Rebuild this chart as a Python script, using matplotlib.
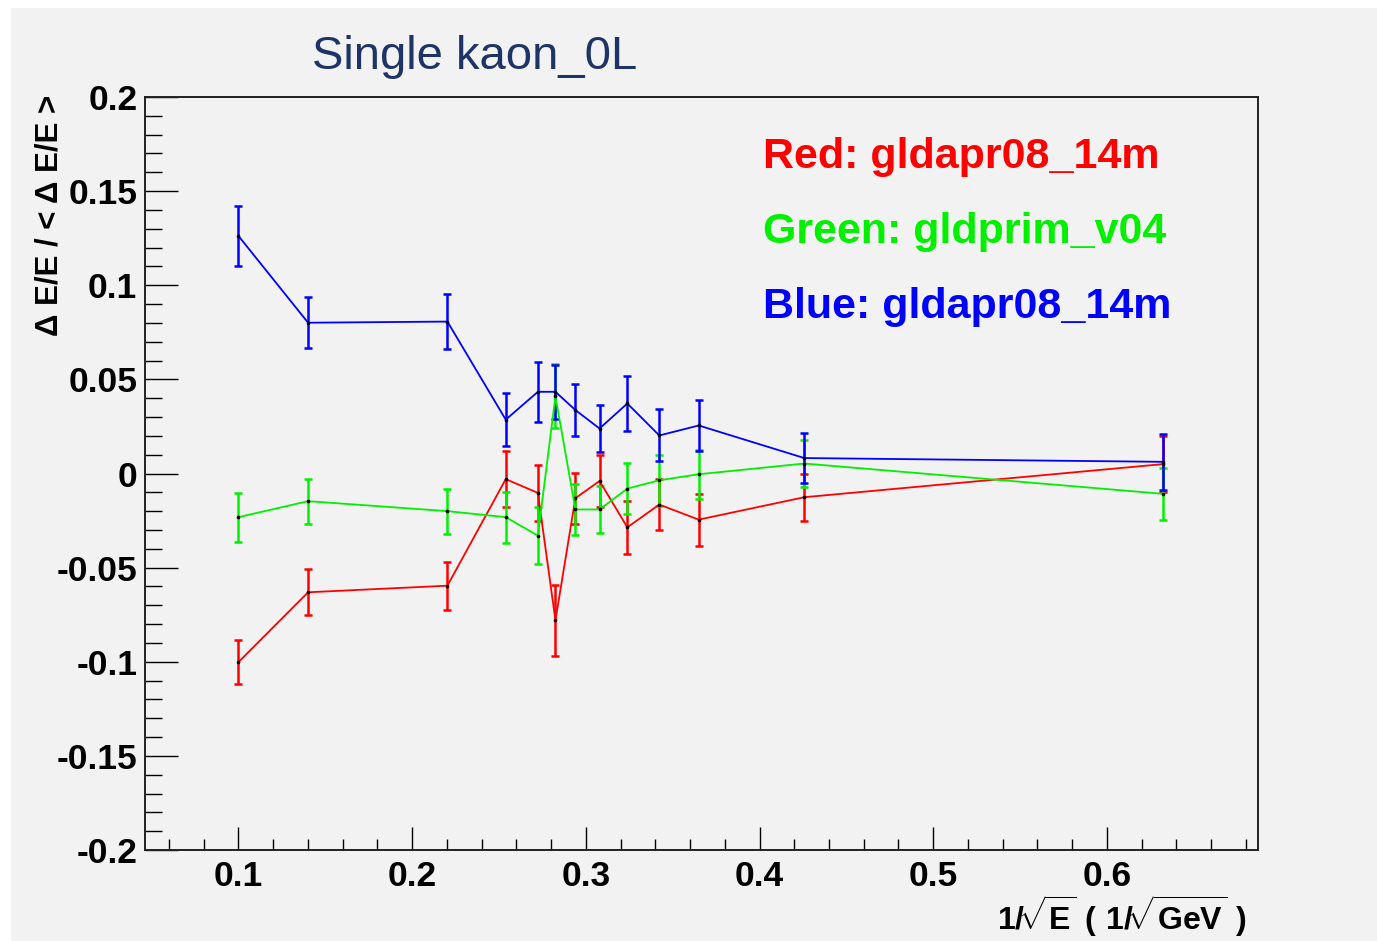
import matplotlib
matplotlib.use("Agg")
import matplotlib.pyplot as plt
from matplotlib.ticker import MultipleLocator, FuncFormatter
from matplotlib.patches import Rectangle

plt.rcParams['font.family'] = ['Liberation Sans', 'DejaVu Sans']
plt.rcParams['axes.unicode_minus'] = False
plt.rcParams['mathtext.fontset'] = 'custom'
plt.rcParams['mathtext.rm'] = 'Liberation Sans'
plt.rcParams['mathtext.bf'] = 'Liberation Sans:bold'

# ---- data ----
inv_sqrt_e = [0.1, 0.1401, 0.2203, 0.2539, 0.2724, 0.2825, 0.294, 0.3079,
              0.3239, 0.3423, 0.365, 0.4258, 0.6324]

red_y = [-0.1002, -0.0631, -0.0596, -0.003, -0.0103, -0.078, -0.0131, -0.004,
         -0.0286, -0.0165, -0.0245, -0.0126, 0.005]
red_err = [0.0115, 0.0122, 0.0127, 0.015, 0.015, 0.019, 0.0136, 0.014,
           0.014, 0.0135, 0.0138, 0.0125, 0.015]

green_y = [-0.0232, -0.0147, -0.02, -0.0232, -0.033, 0.041, -0.0191, -0.0191,
           -0.008, -0.0036, -0.0004, 0.0053, -0.0108]
green_err = [0.013, 0.012, 0.012, 0.0135, 0.015, 0.017, 0.0135, 0.0125,
             0.0135, 0.0135, 0.0131, 0.0123, 0.0137]

blue_y = [0.1262, 0.0801, 0.0807, 0.0286, 0.0434, 0.0434, 0.0337, 0.0239,
          0.0372, 0.0202, 0.0255, 0.0082, 0.0062]
blue_err = [0.016, 0.0135, 0.0147, 0.014, 0.016, 0.0144, 0.014, 0.0127,
            0.0145, 0.0138, 0.0138, 0.0135, 0.015]

series_labels = ["Red: gldapr08_14m", "Green: gldprim_v04", "Blue: gldapr08_14m"]
series_colors = ["#ff0000", "#00f000", "#0000ff"]
title_text = "Single kaon_0L"
x_title = r'$\mathbf{1/}\!\sqrt{\mathbf{E}}\mathbf{\ (\ 1/}\!\sqrt{\mathbf{GeV}}\mathbf{\ )}$'
y_title = "Δ E/E / < Δ E/E >"

W, H = 1377, 941
BG = "#f2f2f2"

fig = plt.figure(figsize=(W / 100, H / 100), dpi=100, facecolor="white")
fig.patches.append(Rectangle((11 / W, 0), 1 - 11 / W, 1 - 8 / H,
                             transform=fig.transFigure, facecolor=BG,
                             edgecolor='none', zorder=-10))


def fx(px):
    return px / W


def fy(py):
    return 1 - py / H


ax = fig.add_axes([fx(145), fy(850), fx(1258) - fx(145), fy(97) - fy(850)])
ax.set_facecolor(BG)

for y, e, c in zip([red_y, green_y, blue_y], [red_err, green_err, blue_err], series_colors):
    ax.errorbar(inv_sqrt_e, y, yerr=e, color=c, lw=1.3, elinewidth=1.8,
                capsize=3.0, capthick=1.8, marker='o', ms=1.6, mfc='k', mec='k')

ax.set_xlim(0.0462, 0.687)
ax.set_ylim(-0.2, 0.2)

ax.xaxis.set_major_locator(MultipleLocator(0.1))
ax.xaxis.set_minor_locator(MultipleLocator(0.02))
ax.yaxis.set_major_locator(MultipleLocator(0.05))
ax.yaxis.set_minor_locator(MultipleLocator(0.01))


def fmt(v, pos):
    v = round(v, 4)
    if v == 0:
        return "0"
    return f"{v:g}"


ax.xaxis.set_major_formatter(FuncFormatter(fmt))
ax.yaxis.set_major_formatter(FuncFormatter(fmt))

ax.tick_params(axis='y', which='major', direction='in', length=24, width=1.0,
               labelsize=25.5, pad=5.5, right=False)
ax.tick_params(axis='y', which='minor', direction='in', length=12, width=1.0, right=False)
ax.tick_params(axis='x', which='major', direction='in', length=16.5, width=1.0,
               labelsize=25.5, pad=7, top=False)
ax.tick_params(axis='x', which='minor', direction='in', length=8, width=1.0, top=False)
for lab in ax.get_xticklabels() + ax.get_yticklabels():
    lab.set_fontweight('bold')

for s in ax.spines.values():
    s.set_linewidth(1.4)
    s.set_color('#222222')

# titles
fig.text(fx(312), fy(69), title_text, fontsize=34, color="#1f3466",
         ha='left', va='baseline')
fig.text(fx(1247), fy(930), x_title, fontsize=23, ha='right', va='baseline')
fig.text(fx(50), fy(95), y_title, fontsize=22.5, fontweight='bold',
         rotation=90, ha='center', va='top')

for i, (lab, c) in enumerate(zip(series_labels, series_colors)):
    fig.text(fx(763), fy(168 + 75 * i), lab, fontsize=31, fontweight='bold',
             color=c, ha='left', va='baseline')

fig.savefig("out.png", dpi=100, facecolor=fig.get_facecolor())
